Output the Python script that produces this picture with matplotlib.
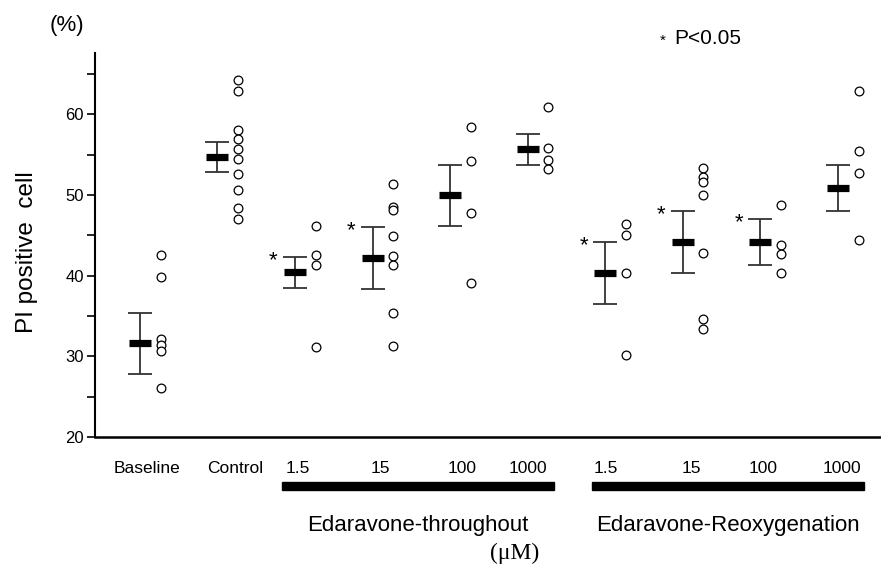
import matplotlib
matplotlib.use("Agg")
import matplotlib.pyplot as plt
import matplotlib.transforms as mtransforms
from matplotlib.patches import Rectangle
import numpy as np

plt.rcParams['font.family'] = ['Liberation Sans', 'DejaVu Sans']

# ---------------- data ----------------
labels = ['Baseline', 'Control', '1.5', '15', '100', '1000', '1.5', '15', '100', '1000']
means = [31.6, 54.7, 40.4, 42.2, 49.95, 55.65, 40.3, 44.15, 44.15, 50.9]
sems = [3.8, 1.9, 1.9, 3.8, 3.8, 1.95, 3.85, 3.85, 2.85, 2.85]
significant = [False, False, True, True, False, False, True, True, True, False]

pts_baseline = [42.6, 39.8, 32.1, 31.4, 30.7, 26.1]
pts_control = [64.2, 62.9, 58.0, 56.9, 55.7, 54.4, 52.6, 50.6, 48.4, 47.0]
pts_thr_1_5 = [46.1, 42.5, 41.3, 31.1]
pts_thr_15 = [51.4, 48.5, 48.1, 44.9, 42.4, 41.3, 35.4, 31.3]
pts_thr_100 = [58.45, 54.2, 47.8, 39.05]
pts_thr_1000 = [60.9, 55.8, 54.3, 53.2]
pts_reo_1_5 = [46.35, 45.1, 40.36, 30.2]
pts_reo_15 = [53.4, 52.2, 51.6, 49.95, 42.75, 34.66, 33.4]
pts_reo_100 = [48.75, 43.75, 42.7, 40.36]
pts_reo_1000 = [62.9, 55.4, 52.7, 44.4]
points = [pts_baseline, pts_control, pts_thr_1_5, pts_thr_15, pts_thr_100,
          pts_thr_1000, pts_reo_1_5, pts_reo_15, pts_reo_100, pts_reo_1000]

group_names = ['Edaravone-throughout', 'Edaravone-Reoxygenation']
group_members = [[2, 3, 4, 5], [6, 7, 8, 9]]

# ---------------- layout ----------------
label_offsets = [0.09, 0.23, 0.04, 0.10, 0.15, 0.0, 0.01, 0.11, 0.04, 0.05]
point_offset = 0.27

W, H = 881, 571
fig = plt.figure(figsize=(W / 100, H / 100), dpi=100)
ax = fig.add_axes([95 / W, 1 - 437 / H, (W - 95) / W, (437 - 53) / H])

pos = np.arange(len(labels))

ax.errorbar(pos, means, yerr=sems, fmt='none', ecolor='#333333',
            elinewidth=1.3, capsize=8.6, capthick=1.3, zorder=2)
ax.plot(pos, means, linestyle='none', marker='_', markersize=16.5,
        markeredgewidth=5.2, color='black', zorder=3)

for i, vals in enumerate(points):
    ax.plot(np.full(len(vals), pos[i] + point_offset), vals, linestyle='none',
            marker='o', markersize=6.3, markerfacecolor='white',
            markeredgecolor='black', markeredgewidth=0.9, zorder=4)

for i, sig in enumerate(significant):
    if sig:
        ax.annotate('*', xy=(pos[i], means[i] + sems[i]), xytext=(-15.5, -6.5),
                    textcoords='offset points', ha='center', va='baseline',
                    fontsize=16, color='black')

ax.set_xlim(-0.58, 9.56)
ax.set_ylim(20, 67.6)

ax.set_yticks([20, 30, 40, 50, 60])
ax.set_yticks([25, 35, 45, 55, 65], minor=True)
ax.tick_params(axis='y', which='both', direction='out', length=6, width=1.2,
               labelsize=12, pad=2)

ax.set_xticks(pos + np.array(label_offsets))
ax.set_xticklabels(labels)
ax.tick_params(axis='x', length=0, labelsize=12.5, pad=17)

for s in ['top', 'right']:
    ax.spines[s].set_visible(False)
ax.spines['left'].set_linewidth(1.5)
ax.spines['bottom'].set_linewidth(1.8)

ax.set_ylabel('PI positive  cell', fontsize=17.5)
ax.yaxis.set_label_coords(-0.073, 0.482)

# group bars below axis
trans = mtransforms.blended_transform_factory(ax.transData, ax.transAxes)
for name, members in zip(group_names, group_members):
    x0 = pos[members[0]] - 0.17
    x1 = pos[members[-1]] + 0.34
    ax.add_patch(Rectangle((x0, -0.138), x1 - x0, 0.021, transform=trans,
                           color='black', clip_on=False))
    ax.text((x0 + x1) / 2, -0.23, name, transform=trans, ha='center',
            va='center', fontsize=16)

fig.text(67 / W, 1 - 26 / H, '(%)', ha='center', va='center', fontsize=16)
fig.text(515 / W, 1 - 553 / H, '(μM)', ha='center', va='center', fontsize=17,
         family=['Liberation Serif', 'DejaVu Serif'])
fig.text(663 / W, 1 - 41 / H, '*', ha='center', va='center', fontsize=11)
fig.text(674 / W, 1 - 38 / H, 'P<0.05', ha='left', va='center', fontsize=15)

fig.savefig('out.png', dpi=100)
